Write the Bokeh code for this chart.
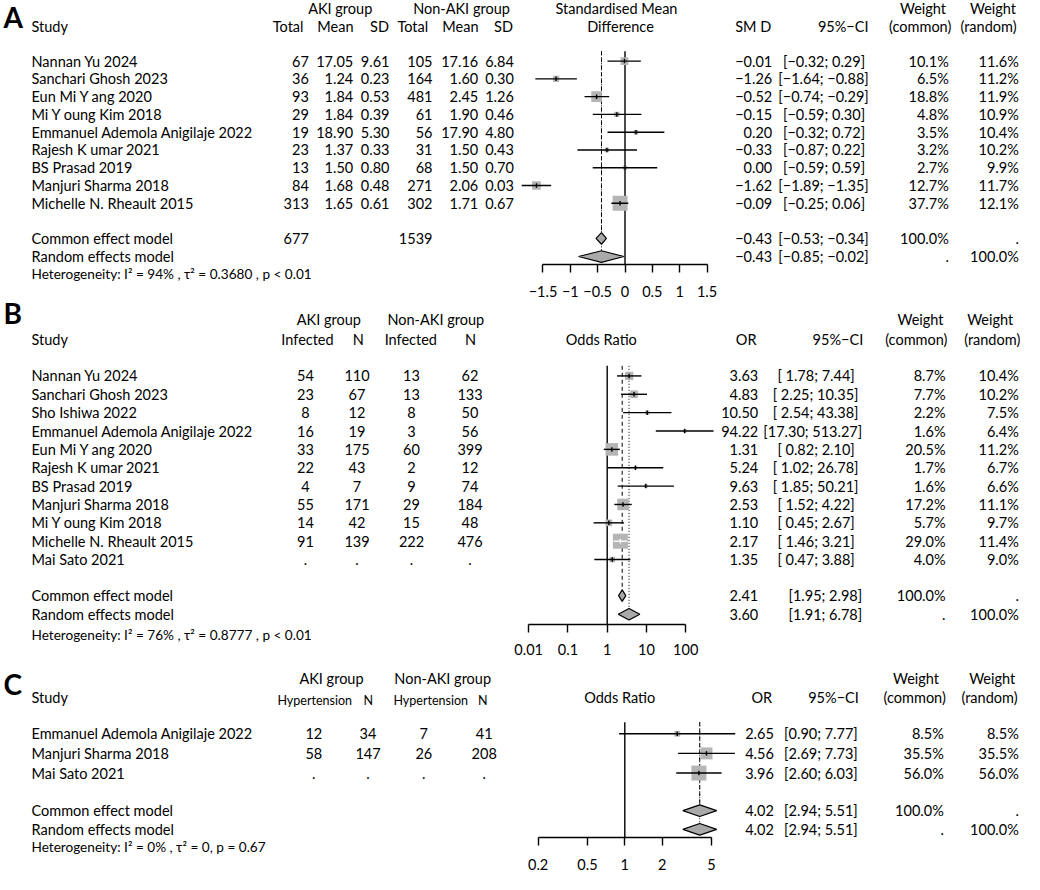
import numpy as np
from bokeh.plotting import figure
from bokeh.models import (Range1d, LinearAxis, LogAxis, LogScale, FixedTicker,
                          CustomJSTickFormatter)
from bokeh.core.properties import value
from bokeh.embed import file_html
from bokeh.resources import INLINE

# ======================= DATA =======================
# Panel A : standardised mean difference
A_studies = ["Nannan Yu 2024", "Sanchari Ghosh 2023", "Eun Mi Y ang 2020", "Mi Y oung Kim 2018",
             "Emmanuel Ademola Anigilaje 2022", "Rajesh K umar 2021", "BS Prasad 2019",
             "Manjuri Sharma 2018", "Michelle N. Rheault 2015"]
A_aki_total = [67, 36, 93, 29, 19, 23, 13, 84, 313]
A_aki_mean = [17.05, 1.24, 1.84, 1.84, 18.90, 1.37, 1.50, 1.68, 1.65]
A_aki_sd = [9.61, 0.23, 0.53, 0.39, 5.30, 0.33, 0.80, 0.48, 0.61]
A_non_total = [105, 164, 481, 61, 56, 31, 68, 271, 302]
A_non_mean = [17.16, 1.60, 2.45, 1.90, 17.90, 1.50, 1.50, 2.06, 1.71]
A_non_sd = [6.84, 0.30, 1.26, 0.46, 4.80, 0.43, 0.70, 0.03, 0.67]
A_smd = [-0.01, -1.26, -0.52, -0.15, 0.20, -0.33, 0.00, -1.62, -0.09]
A_lo = [-0.32, -1.64, -0.74, -0.59, -0.32, -0.87, -0.59, -1.89, -0.25]
A_hi = [0.29, -0.88, -0.29, 0.30, 0.72, 0.22, 0.59, -1.35, 0.06]
A_w_common = [10.1, 6.5, 18.8, 4.8, 3.5, 3.2, 2.7, 12.7, 37.7]
A_w_random = [11.6, 11.2, 11.9, 10.9, 10.4, 10.2, 9.9, 11.7, 12.1]
A_pooled_total = [677, 1539]
A_model_est = [-0.43, -0.43]          # common, random
A_model_lo = [-0.53, -0.85]
A_model_hi = [-0.34, -0.02]
A_ticks = [-1.5, -1, -0.5, 0, 0.5, 1, 1.5]
A_null = 0.0
A_het = "Heterogeneity:  I² = 94% , τ² = 0.3680 , p < 0.01"

# Panel B : infection, odds ratio
B_studies = ["Nannan Yu 2024", "Sanchari Ghosh 2023", "Sho Ishiwa 2022", "Emmanuel Ademola Anigilaje 2022",
             "Eun Mi Y ang 2020", "Rajesh K umar 2021", "BS Prasad 2019", "Manjuri Sharma 2018",
             "Mi Y oung Kim 2018", "Michelle N. Rheault 2015", "Mai Sato 2021"]
B_aki_ev = [54, 23, 8, 16, 33, 22, 4, 55, 14, 91, None]
B_aki_n = [110, 67, 12, 19, 175, 43, 7, 171, 42, 139, None]
B_non_ev = [13, 13, 8, 3, 60, 2, 9, 29, 15, 222, None]
B_non_n = [62, 133, 50, 56, 399, 12, 74, 184, 48, 476, None]
B_or = [3.63, 4.83, 10.50, 94.22, 1.31, 5.24, 9.63, 2.53, 1.10, 2.17, 1.35]
B_lo = [1.78, 2.25, 2.54, 17.30, 0.82, 1.02, 1.85, 1.52, 0.45, 1.46, 0.47]
B_hi = [7.44, 10.35, 43.38, 513.27, 2.10, 26.78, 50.21, 4.22, 2.67, 3.21, 3.88]
B_w_common = [8.7, 7.7, 2.2, 1.6, 20.5, 1.7, 1.6, 17.2, 5.7, 29.0, 4.0]
B_w_random = [10.4, 10.2, 7.5, 6.4, 11.2, 6.7, 6.6, 11.1, 9.7, 11.4, 9.0]
B_model_est = [2.41, 3.60]
B_model_lo = [1.95, 1.91]
B_model_hi = [2.98, 6.78]
B_ticks = [0.01, 0.1, 1, 10, 100]
B_null = 1.0
B_het = "Heterogeneity:  I² = 76% , τ² = 0.8777 , p < 0.01"

# Panel C : hypertension, odds ratio
C_studies = ["Emmanuel Ademola Anigilaje 2022", "Manjuri Sharma 2018", "Mai Sato 2021"]
C_aki_ev = [12, 58, None]
C_aki_n = [34, 147, None]
C_non_ev = [7, 26, None]
C_non_n = [41, 208, None]
C_or = [2.65, 4.56, 3.96]
C_lo = [0.90, 2.69, 2.60]
C_hi = [7.77, 7.73, 6.03]
C_w_common = [8.5, 35.5, 56.0]
C_w_random = [8.5, 35.5, 56.0]
C_model_est = [4.02, 4.02]
C_model_lo = [2.94, 2.94]
C_model_hi = [5.51, 5.51]
C_ticks = [0.2, 0.5, 1, 2, 5]
C_null = 1.0
C_het = "Heterogeneity:  I² = 0% , τ² = 0, p = 0.67"

MODELS = ["Common effect model", "Random effects model"]

# ======================= LAYOUT / STYLE =======================
X0, X1 = 0, 1024          # horizontal data units = picture pixels
REF_H = 890
W, H = 1024, 874
FS = 14.5                 # base font size (px)
FONT = "Lato"
BOX = "#B5B5B5"
DIA = "#A9A9A9"
MINUS = "\u2212"


def f2(v):
    s = f"{abs(v):.2f}"
    return (MINUS + s) if v < 0 else s


def fint(v):
    return "." if v is None else str(v)


def ci_strings(lo, hi, pad=True):
    los = [f2(v) for v in lo]
    his = [f2(v) for v in hi]
    if pad:
        wl = max(len(s) for s in los)
        wh = max(len(s) for s in his)
        return [f"[{a.rjust(wl)}; {b.rjust(wh)}]" for a, b in zip(los, his)]
    return [f"[{a}; {b}]" for a, b in zip(los, his)]


def pct(v):
    return f"{v:.1f}%"


p = figure(width=W, height=H, x_range=Range1d(X0, X1), y_range=Range1d(REF_H, 0),
           output_backend="svg", toolbar_location=None,
           x_axis_location=None, y_axis_location=None, min_border=0,
           outline_line_color=None, background_fill_color="white", border_fill_color="white")
p.grid.visible = False


def lin_range(px0, ppu):
    return Range1d((X0 - px0) / ppu, (X1 - px0) / ppu)


def log_range(px1, ppd):
    return Range1d(10 ** ((X0 - px1) / ppd), 10 ** ((X1 - px1) / ppd))


A_PX0, A_PPU = 624.5, 54.67
B_PX1, B_PPD = 606.7, 39.25
C_PX1, C_PPD = 624.3, 124.0
p.extra_x_ranges = {"smd": lin_range(A_PX0, A_PPU),
                    "orB": log_range(B_PX1, B_PPD),
                    "orC": log_range(C_PX1, C_PPD)}
p.extra_x_scales = {"orB": LogScale(), "orC": LogScale()}


def put(x, y, texts, align="left", size=FS, style="normal"):
    texts = list(texts)
    n = len(texts)
    xs = [x] * n if np.isscalar(x) else list(x)
    ys = [y] * n if np.isscalar(y) else list(y)
    p.text(x=xs, y=ys, text=texts, text_align=align, text_baseline="middle",
           text_font=value(FONT), text_font_size=f"{size:.2f}px",
           text_font_style=style, text_color="black")


def forest(rname, to_px, est, lo, hi, w, rows, box_max=15.0):
    est, lo, hi, w = (np.asarray(a, dtype=float) for a in (est, lo, hi, w))
    side = box_max * np.sqrt(w / w.max())
    inside = (to_px(hi) - to_px(lo)) < side
    col = ["white" if b else "black" for b in inside]
    p.scatter(x=est, y=rows, size=side, marker="square", fill_color=BOX,
              line_color=None, x_range_name=rname)
    p.segment(x0=lo, x1=hi, y0=rows, y1=rows, line_color=col, line_width=1.4,
              x_range_name=rname)
    p.scatter(x=est, y=rows, size=4.5, marker="dash", angle=np.pi / 2,
              line_color=col, line_width=1.4, x_range_name=rname)


def diamonds(rname, est, lo, hi, rows, h=5.9):
    xs = [[l, e, u, e] for e, l, u in zip(est, lo, hi)]
    ys = [[y, y - h, y, y + h] for y in rows]
    p.patches(xs=xs, ys=ys, fill_color=DIA, line_color="black", line_width=1.2,
              x_range_name=rname)


def vlines(rname, null, est, top, axis_y, model_rows):
    p.segment(x0=[null], x1=[null], y0=[top], y1=[axis_y], line_color="black",
              line_width=1.4, x_range_name=rname)
    p.segment(x0=[est[0]], x1=[est[0]], y0=[top], y1=[model_rows[0]], line_color="black",
              line_width=1.0, line_dash="4 3", x_range_name=rname)
    p.segment(x0=[est[1]], x1=[est[1]], y0=[top], y1=[model_rows[1]], line_color="black",
              line_width=1.0, line_dash="1 2", x_range_name=rname)


JS_FMT = "return tick < 0 ? '\u2212' + String(-tick) : String(tick);"


def axis(rname, ticks, loc, log=False, standoff=13):
    Ax = LogAxis if log else LinearAxis
    ax = Ax(x_range_name=rname, fixed_location=loc, bounds=(ticks[0], ticks[-1]),
            ticker=FixedTicker(ticks=ticks, minor_ticks=[]),
            formatter=CustomJSTickFormatter(code=JS_FMT),
            major_tick_in=0, major_tick_out=8, minor_tick_in=0, minor_tick_out=0,
            axis_line_color="black", axis_line_width=1.4,
            major_tick_line_color="black", major_tick_line_width=1.4,
            major_label_standoff=standoff,
            major_label_text_font=FONT, major_label_text_font_size=f"{FS:.2f}px",
            major_label_text_color="black")
    p.add_layout(ax, "below")


# ======================= PANEL A =======================
A_rows = [61.7 + i * 18.1 for i in range(len(A_studies))]
A_mrows = [242.3, 260.7]
put(3, 17, ["A"], size=28, style="bold")
put([339.7, 461.0, 616.0], 8.5, ["AKI group", "Non-AKI group", "Standardised Mean"], "center")
put([922.5, 992.5], 8.5, ["Weight", "Weight"], "center")
put(31, 26.2, ["Study"])
put([303, 353, 388.5, 427.7, 478, 512.5], 26.2, ["Total", "Mean", "SD", "Total", "Mean", "SD"], "right")
put(620, 26.2, ["Difference"], "center")
put([770.7, 868], 26.2, ["SM D", "95%" + MINUS + "CI"], "right")
put([919.7, 988], 26.2, ["(common)", "(random)"], "center")

put(31, A_rows, A_studies)
put(308.3, A_rows, [fint(v) for v in A_aki_total], "right")
put(352.7, A_rows, [f"{v:.2f}" for v in A_aki_mean], "right")
put(389, A_rows, [f"{v:.2f}" for v in A_aki_sd], "right")
put(432, A_rows, [fint(v) for v in A_non_total], "right")
put(477.7, A_rows, [f"{v:.2f}" for v in A_non_mean], "right")
put(513.3, A_rows, [f"{v:.2f}" for v in A_non_sd], "right")
put(771.7, A_rows, [f2(v) for v in A_smd], "right")
put(868.3, A_rows, ci_strings(A_lo, A_hi), "right")
put(948.3, A_rows, [pct(v) for v in A_w_common], "right")
put(1018.3, A_rows, [pct(v) for v in A_w_random], "right")

put(31, A_mrows, MODELS)
put([308.3, 432], A_mrows[0], [str(v) for v in A_pooled_total], "right")
put(771.7, A_mrows, [f2(v) for v in A_model_est], "right")
put(868.3, A_mrows, ci_strings(A_model_lo, A_model_hi), "right")
put(948.3, A_mrows, ["100.0%", "."], "right")
put(1018.3, A_mrows, [".", "100.0%"], "right")
put(31, 278.7, [A_het], size=13.6)

vlines("smd", A_null, A_model_est, 51.7, 269.3, A_mrows)
forest("smd", lambda v: v * A_PPU, A_smd, A_lo, A_hi, A_w_common, A_rows)
diamonds("smd", A_model_est, A_model_lo, A_model_hi, A_mrows)
axis("smd", A_ticks, 269.3, standoff=13)

# ======================= PANEL B =======================
B_rows = [382.3 + i * 18.7 for i in range(len(B_studies))]
B_mrows = [606.0, 625.0]
put(3, 318, ["B"], size=28, style="bold")
put([328.3, 435.3], 324.5, ["AKI group", "Non-AKI group"], "center")
put([920, 989.7], 324.5, ["Weight", "Weight"], "center")
put(31, 345, ["Study"])
put([307, 357.7, 410.3, 470, 600.8], 345, ["Infected", "N", "Infected", "N", "Odds Ratio"], "center")
put([756, 862.7], 345, ["OR", "95%" + MINUS + "CI"], "right")
put([915.8, 991.7], 345, ["(common)", "(random)"], "center")

put(31, B_rows, B_studies)
put(305, B_rows, [fint(v) for v in B_aki_ev], "center")
put(356.5, B_rows, [fint(v) for v in B_aki_n], "center")
put(411, B_rows, [fint(v) for v in B_non_ev], "center")
put(469.5, B_rows, [fint(v) for v in B_non_n], "center")
put(757.7, B_rows, [f2(v) for v in B_or], "right")
put(861.7, B_rows, ci_strings(B_lo, B_hi), "right")
put(945, B_rows, [pct(v) for v in B_w_common], "right")
put(1018.3, B_rows, [pct(v) for v in B_w_random], "right")

put(31, B_mrows, MODELS)
put(757.7, B_mrows, [f2(v) for v in B_model_est], "right")
put(861.7, B_mrows, ci_strings(B_model_lo, B_model_hi), "right")
put(945, B_mrows, ["100.0%", "."], "right")
put(1018.3, B_mrows, [".", "100.0%"], "right")
put(31, 645.7, [B_het], size=13.6)

vlines("orB", B_null, B_model_est, 372.0, 635.0, B_mrows)
forest("orB", lambda v: np.log10(v) * B_PPD, B_or, B_lo, B_hi, B_w_common, B_rows)
diamonds("orB", B_model_est, B_model_lo, B_model_hi, B_mrows)
axis("orB", B_ticks, 635.0, log=True, standoff=12)

# ======================= PANEL C =======================
C_rows = [746.7 + i * 20.0 for i in range(len(C_studies))]
C_mrows = [825.0, 844.0]
put(3, 696, ["C"], size=28, style="bold")
put([331, 442.2], 690, ["AKI group", "Non-AKI group"], "center")
put([915.5, 991.7], 690, ["Weight", "Weight"], "center")
put(31, 709.3, ["Study"])
put([314.2, 367.7, 430.2, 482.3], 712.7, ["Hypertension", "N", "Hypertension", "N"], "center", size=12.5)
put(619.2, 709.3, ["Odds Ratio"], "center")
put([771.7, 858.3], 709.3, ["OR", "95%" + MINUS + "CI"], "right")
put([914.2, 989], 709.3, ["(common)", "(random)"], "center")

put(31, C_rows, C_studies)
put(313.3, C_rows, [fint(v) for v in C_aki_ev], "center")
put(367.5, C_rows, [fint(v) for v in C_aki_n], "center")
put(423.3, C_rows, [fint(v) for v in C_non_ev], "center")
put(483.7, C_rows, [fint(v) for v in C_non_n], "center")
put(773.3, C_rows, [f2(v) for v in C_or], "right")
put(857.3, C_rows, ci_strings(C_lo, C_hi, pad=False), "right")
put(943.3, C_rows, [pct(v) for v in C_w_common], "right")
put(1018.3, C_rows, [pct(v) for v in C_w_random], "right")

put(31, C_mrows, MODELS)
put(773.3, C_mrows, [f2(v) for v in C_model_est], "right")
put(857.3, C_mrows, ci_strings(C_model_lo, C_model_hi, pad=False), "right")
put(943.3, C_mrows, ["100.0%", "."], "right")
put(1018.3, C_mrows, [".", "100.0%"], "right")
put(31, 862.3, [C_het], size=13.6)

vlines("orC", C_null, C_model_est, 735.0, 852.7, C_mrows)
forest("orC", lambda v: np.log10(v) * C_PPD, C_or, C_lo, C_hi, C_w_common, C_rows)
diamonds("orC", C_model_est, C_model_lo, C_model_hi, C_mrows)
axis("orC", C_ticks, 852.7, log=True, standoff=13)

open("out.html", "w").write(file_html(p, INLINE))
